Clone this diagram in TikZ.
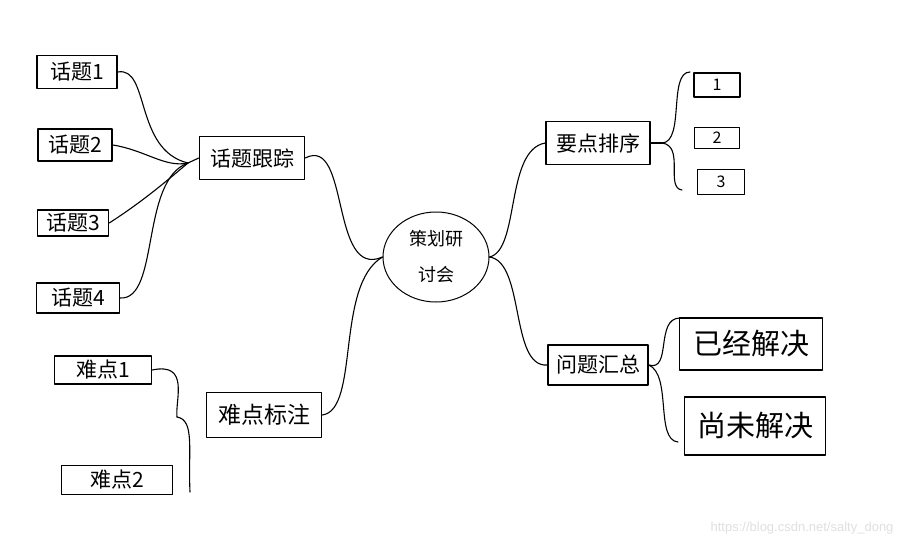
\documentclass[tikz,border=0pt]{standalone}
\usepackage{fontspec}
\setmainfont{Liberation Sans}
\newfontfamily\cjk{Noto Sans CJK SC}
\usetikzlibrary{shapes.geometric}

\begin{document}
\begin{tikzpicture}[x=1pt,y=-1pt,line cap=round,line join=round,
  box/.style={draw,line width=1.5pt,inner sep=0pt,font=\cjk\fontsize{21}{24}\selectfont},
  bigbox/.style={box,font=\cjk\fontsize{29}{32}\selectfont},
  numbox/.style={box,font=\cjk\fontsize{16}{18}\selectfont},
  link/.style={line width=1.1pt}]
  \useasboundingbox[fill=white] (0,0) rectangle (905,546);

  \node[ellipse,draw,line width=1pt,minimum width=106,minimum height=90,align=center,inner sep=0pt,
    font=\cjk\fontsize{18}{36}\selectfont] (hub) at (436,257) {策划研\\讨会};

  \node[box,minimum width=80,minimum height=33] (t1) at (77,72) {话题1};
  \node[box,minimum width=74,minimum height=32] (t2) at (75,145) {话题2};
  \node[box,minimum width=71,minimum height=26] (t3) at (73,223) {话题3};
  \node[box,minimum width=83,minimum height=30] (t4) at (78,298) {话题4};
  \node[box,minimum width=105,minimum height=43] (ht) at (252,158) {话题跟踪};

  \node[box,minimum width=97,minimum height=28] (n1) at (103,370) {难点1};
  \node[box,minimum width=111,minimum height=29] (n2) at (117,480) {难点2};
  \node[box,minimum width=115,minimum height=45,font=\cjk\fontsize{23}{26}\selectfont] (nd) at (264,415) {难点标注};

  \node[box,minimum width=104,minimum height=43] (yd) at (598,143) {要点排序};
  \node[numbox,minimum width=46,minimum height=24] (y1) at (717,85) {1};
  \node[numbox,minimum width=45,minimum height=21] (y2) at (717,138) {2};
  \node[numbox,minimum width=47,minimum height=25] (y3) at (721,182) {3};

  \node[box,minimum width=100,minimum height=40] (wt) at (598,365) {问题汇总};
  \node[bigbox,minimum width=143,minimum height=52] (w1) at (751,344) {已经解决};
  \node[bigbox,minimum width=141,minimum height=58] (w2) at (755,426) {尚未解决};

  \coordinate (tp) at (188,163);
  \coordinate (np) at (177,417);
  \coordinate (nb) at (190,492);
  \coordinate (yp) at (662,143);
  \coordinate (yt) at (690,72);
  \coordinate (yb) at (682,190);
  \coordinate (wu) at (680,318);
  \coordinate (wd) at (678,442);

  \draw[link] (t1.east) .. controls (150,66) and (134,150) .. (tp);
  \draw[link] (t2.east) .. controls (145,150) and (165,168) .. (tp);
  \draw[link] (t3.east) .. controls (145,200) and (170,178) .. (tp);
  \draw[link] (t4.east) .. controls (160,300) and (140,180) .. (tp);
  \draw[link] (tp) -- (ht.west);

  \draw[link] (n1.east) .. controls (190,362) and (175,400) .. (np);
  \draw[link] (np) .. controls (195,420) and (188,450) .. (nb);

  \draw[link] (ht.east) .. controls (350,135) and (330,280) .. (hub.west);
  \draw[link] (nd.east) .. controls (360,410) and (335,285) .. (hub.west);
  \draw[link] (hub.east) .. controls (520,250) and (505,150) .. (yd.west);
  \draw[link] (hub.east) .. controls (525,262) and (510,368) .. (wt.west);

  \draw[link] (yd.east) -- (yp);
  \draw[link] (yp) .. controls (685,142) and (668,72) .. (yt);
  \draw[link] (yp) .. controls (685,146) and (665,188) .. (yb);

  \draw[link] (wt.east) .. controls (672,372) and (655,318) .. (wu);
  \draw[link] (wt.east) .. controls (672,375) and (655,440) .. (wd);

  \node[text=black!12,font=\fontsize{13}{15}\selectfont,anchor=east] (wm) at (897,528) {https://blog.csdn.net/salty\_dong};
\end{tikzpicture}
\end{document}
